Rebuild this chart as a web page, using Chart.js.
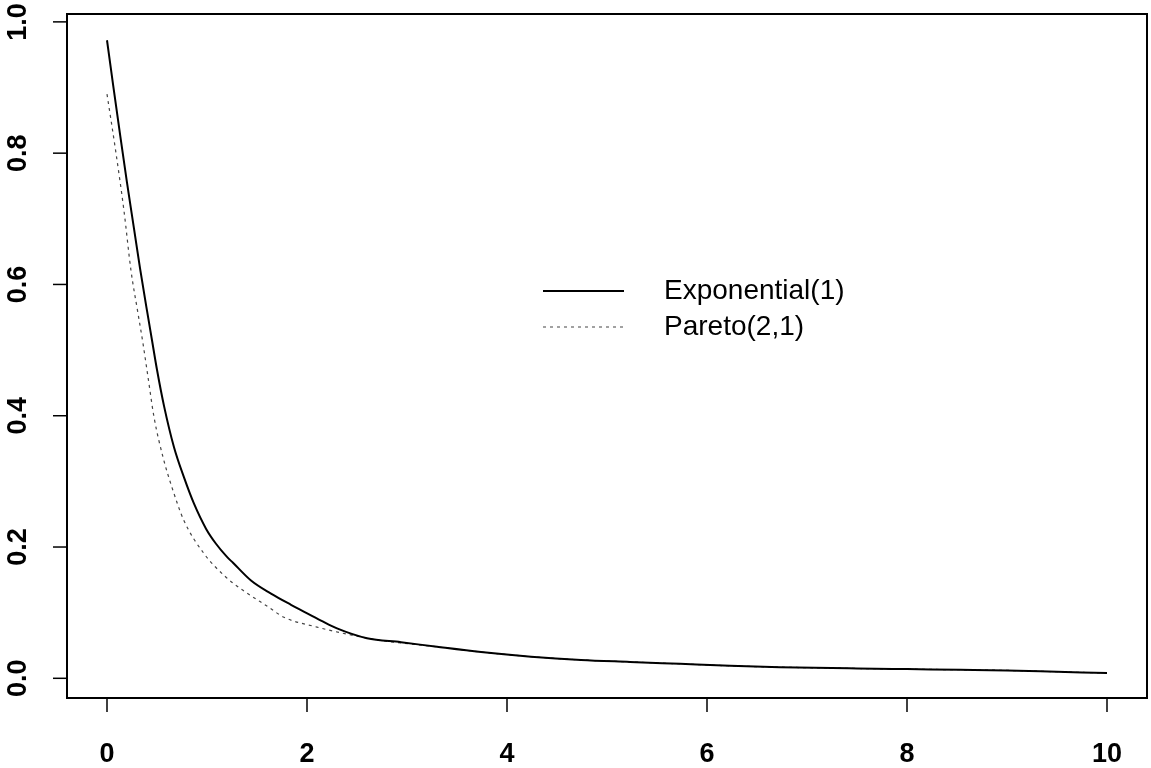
<!DOCTYPE html>
<html>
<head>
<meta charset="utf-8">
<script src="https://cdn.jsdelivr.net/npm/chart.js@4"></script>
<style>
  body { margin: 0; background: #fff; }
</style>
</head>
<body>
<canvas id="grafico" width="1151" height="768"></canvas>
<script>
// curva solida (Exponential(1))
const expX = [0, 0.06, 0.12, 0.2, 0.27, 0.33, 0.4, 0.45, 0.5, 0.57, 0.67, 0.77, 0.87, 0.99, 1.09, 1.2, 1.26, 1.44, 1.64, 1.84, 1.94, 2.14, 2.3, 2.6, 2.94, 3.3, 3.74, 4.24, 4.74, 5.23, 5.73, 6.23, 6.73, 7.5, 8.0, 8.53, 9.0, 9.5, 10];
const expY = [0.972, 0.905, 0.84, 0.755, 0.685, 0.625, 0.56, 0.515, 0.47, 0.415, 0.352, 0.306, 0.266, 0.228, 0.205, 0.185, 0.176, 0.149, 0.129, 0.112, 0.104, 0.088, 0.076, 0.061, 0.055, 0.048, 0.04, 0.033, 0.028, 0.025, 0.022, 0.019, 0.017, 0.015, 0.014, 0.013, 0.012, 0.01, 0.008];

// curva punteada (Pareto(2,1))
const parX = [0, 0.09, 0.17, 0.24, 0.31, 0.36, 0.41, 0.47, 0.56, 0.66, 0.77, 0.97, 1.19, 1.36, 1.61, 1.77, 2.1, 2.44, 2.77, 2.94, 3.3, 3.74, 4.24, 4.74, 5.23, 5.73, 6.23, 6.73, 7.5, 8.0, 8.53, 9.0, 9.5, 10];
const parY = [0.89, 0.8, 0.712, 0.621, 0.556, 0.51, 0.459, 0.398, 0.337, 0.286, 0.24, 0.19, 0.154, 0.134, 0.109, 0.093, 0.078, 0.066, 0.057, 0.054, 0.048, 0.04, 0.033, 0.028, 0.025, 0.022, 0.019, 0.017, 0.015, 0.014, 0.013, 0.012, 0.01, 0.008];

const xTicks = [0, 2, 4, 6, 8, 10];
const xTickLabels = ['0', '2', '4', '6', '8', '10'];
const yTicks = [0, 0.2, 0.4, 0.6, 0.8, 1.0];
const yTickLabels = ['0.0', '0.2', '0.4', '0.6', '0.8', '1.0'];

const legendLabels = ['Exponential(1)', 'Pareto(2,1)'];

const tickFont = 'bold 27px "Liberation Sans", Arial, sans-serif';
const legendFont = '28px "Liberation Sans", Arial, sans-serif';

// caja, ticks y etiquetas estilo R
const ejesR = {
    id: 'ejesR',
    afterDraw(chart) {
        const ctx = chart.ctx;
        const a = chart.chartArea;
        const sx = chart.scales.x;
        const sy = chart.scales.y;
        ctx.save();
        ctx.strokeStyle = '#000';
        ctx.lineWidth = 2;
        ctx.strokeRect(a.left, a.top, a.right - a.left, a.bottom - a.top);

        ctx.lineWidth = 1.5;
        ctx.fillStyle = '#000';
        ctx.font = tickFont;
        ctx.textAlign = 'center';
        ctx.textBaseline = 'middle';
        xTicks.forEach((v, i) => {
            const px = sx.getPixelForValue(v);
            ctx.beginPath();
            ctx.moveTo(px, a.bottom);
            ctx.lineTo(px, a.bottom + 14);
            ctx.stroke();
            ctx.fillText(xTickLabels[i], px, a.bottom + 57);
        });
        yTicks.forEach((v, i) => {
            const py = sy.getPixelForValue(v);
            ctx.beginPath();
            ctx.moveTo(a.left, py);
            ctx.lineTo(a.left - 14, py);
            ctx.stroke();
            ctx.save();
            ctx.translate(a.left - 48, py);
            ctx.rotate(-Math.PI / 2);
            ctx.fillText(yTickLabels[i], 0, 0);
            ctx.restore();
        });

        // leyenda
        const lx = sx.getPixelForValue(4.36);
        const ly = sy.getPixelForValue(0.59);
        ctx.font = legendFont;
        ctx.textAlign = 'left';
        chart.data.datasets.forEach((ds, i) => {
            const y = ly + i * 36;
            ctx.beginPath();
            ctx.strokeStyle = ds.borderColor;
            ctx.lineWidth = ds.borderWidth;
            ctx.setLineDash(ds.borderDash || []);
            ctx.moveTo(lx, y);
            ctx.lineTo(lx + 81, y);
            ctx.stroke();
            ctx.setLineDash([]);
            ctx.fillStyle = '#000';
            ctx.fillText(legendLabels[i], lx + 121, y);
        });
        ctx.restore();
    }
};

new Chart(document.getElementById('grafico'), {
    type: 'line',
    data: {
        datasets: [
            {
                label: legendLabels[0],
                data: expX.map((x, i) => ({ x: x, y: expY[i] })),
                borderColor: '#000',
                borderWidth: 2,
                pointRadius: 0,
                cubicInterpolationMode: 'monotone',
                fill: false
            },
            {
                label: legendLabels[1],
                data: parX.map((x, i) => ({ x: x, y: parY[i] })),
                borderColor: '#444',
                borderWidth: 1.2,
                borderDash: [3, 4],
                pointRadius: 0,
                cubicInterpolationMode: 'monotone',
                fill: false
            }
        ]
    },
    options: {
        responsive: false,
        animation: false,
        layout: { padding: { top: 14, right: 4, left: 0, bottom: 0 } },
        plugins: { legend: { display: false }, tooltip: { enabled: false } },
        scales: {
            x: {
                type: 'linear',
                min: -0.4,
                max: 10.4,
                grid: { display: false },
                border: { display: false },
                ticks: { display: false },
                afterBuildTicks: s => { s.ticks = xTicks.map(v => ({ value: v })); },
                afterFit: s => { s.height = 70; }
            },
            y: {
                min: -0.03,
                max: 1.012,
                grid: { display: false },
                border: { display: false },
                ticks: { display: false },
                afterBuildTicks: s => { s.ticks = yTicks.map(v => ({ value: v })); },
                afterFit: s => { s.width = 67; }
            }
        }
    },
    plugins: [ejesR]
});
</script>
</body>
</html>
